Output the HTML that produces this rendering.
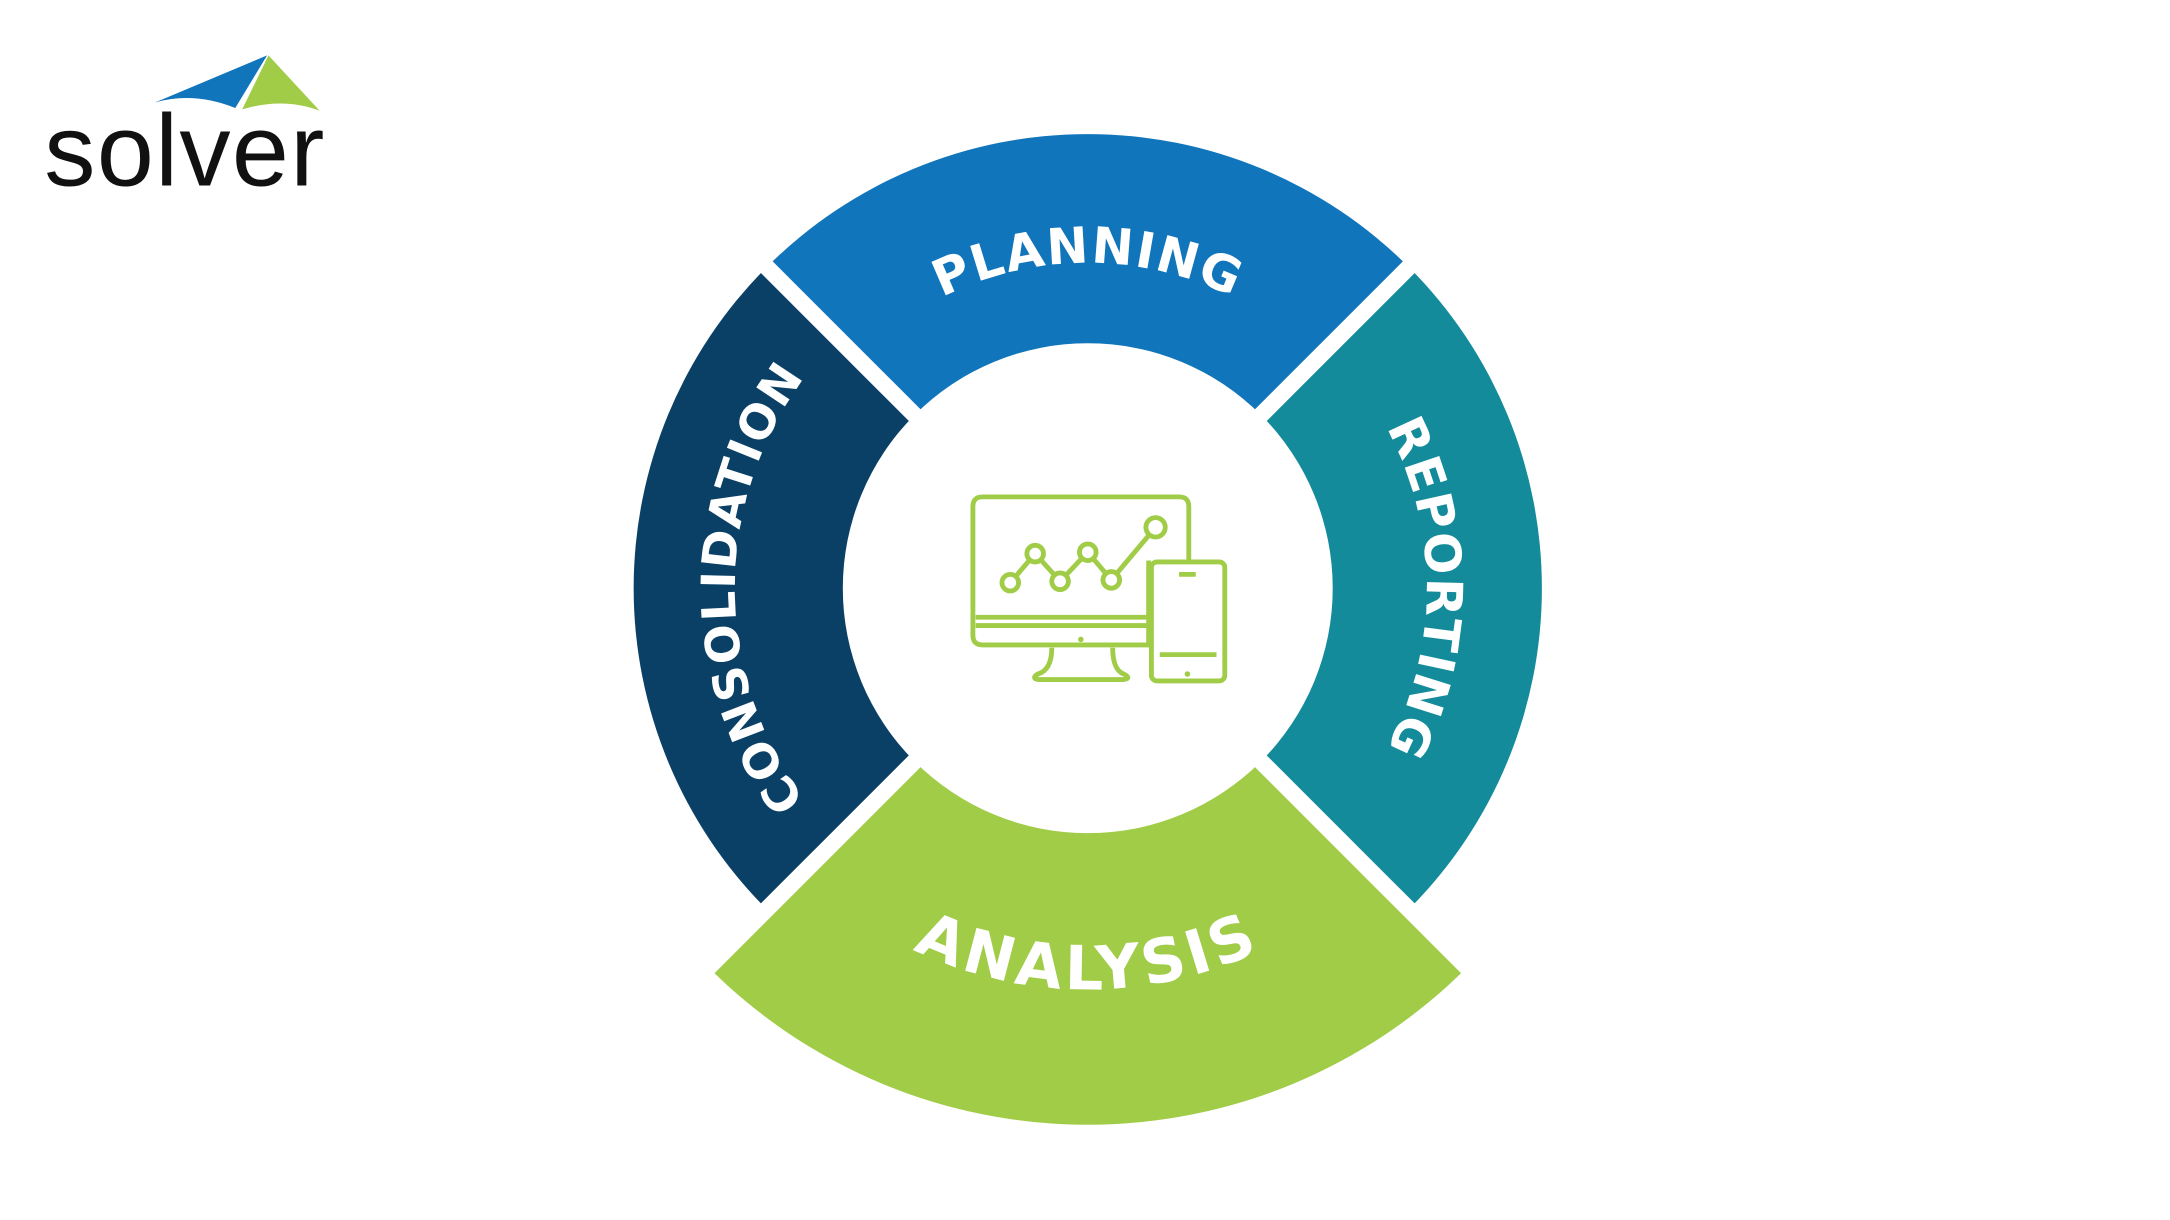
<!DOCTYPE html>
<html><head><meta charset="utf-8"><style>
html,body{margin:0;padding:0;background:#fff;}
svg{display:block;}
</style></head><body>
<svg width="2170" height="1220" viewBox="0 0 1568 881.5" xmlns="http://www.w3.org/2000/svg">
<defs>
<path id="pPlan" d="M 786 425 m -166.2 -166.2 A 235 235 0 0 1 952.2 258.8"/>
<path id="pRep" d="M 786 425 m 173.2 -173.2 A 245 245 0 0 1 959.2 598.2"/>
<path id="pCons" d="M 786 425 m -180.3 180.3 A 255 255 0 0 1 605.7 244.7"/>
<path id="pAna" d="M 786 425 m -205 205 A 290 290 0 0 0 991 630"/>
</defs>
<path d="M786 425 L554 193 A328 328 0 0 1 1018 193 Z" fill="#1175BC"/>
<path d="M786 425 L1018 193 A328 328 0 0 1 1018 657 Z" fill="#138B9A"/>
<path d="M786 425 L554 657 A328 328 0 0 1 554 193 Z" fill="#0B4066"/>
<path d="M786 425 L1060 699 A387 387 0 0 1 512 699 Z" fill="#A0CC47"/>
<line x1="786" y1="425" x2="480" y2="119" stroke="#fff" stroke-width="12"/>
<line x1="786" y1="425" x2="1092" y2="119" stroke="#fff" stroke-width="12"/>
<line x1="786" y1="425" x2="440" y2="771" stroke="#fff" stroke-width="12"/>
<line x1="786" y1="425" x2="1132" y2="771" stroke="#fff" stroke-width="12"/>
<circle cx="786" cy="425" r="177" fill="#fff"/>
<g font-family="DejaVu Sans, Liberation Sans, sans-serif" font-weight="bold" fill="#fff" font-size="36" letter-spacing="1">
<text><textPath href="#pPlan" startOffset="50%" text-anchor="middle">PLANNING</textPath></text>
<text><textPath href="#pRep" startOffset="50%" text-anchor="middle">REPORTING</textPath></text>
<text font-size="34" letter-spacing="1"><textPath href="#pCons" startOffset="50%" text-anchor="middle">CONSOLIDATION</textPath></text>
<text font-size="44" letter-spacing="3"><textPath href="#pAna" startOffset="50%" text-anchor="middle">ANALYSIS</textPath></text>
</g>
<g fill="none" stroke="#A0CC47" stroke-width="3.5" stroke-linejoin="round">
<path d="M830 405 V466 H710 Q703 466 703 459 V366 Q703 359 710 359 H852 Q859 359 859 366 V405"/>
<line x1="705" y1="446" x2="830" y2="446"/>
<line x1="705" y1="452" x2="830" y2="452"/>
<path d="M760 468 Q760 484 750 487 Q745 490 750 491 H812 Q818 490 812 487 Q804 484 804 468"/>
<rect x="832" y="406" width="53" height="86" rx="4"/>
<line x1="838" y1="473" x2="879" y2="473"/>
<line x1="852" y1="415" x2="864" y2="415"/>
<polyline points="730,421 748,400 766,420 786,399 803,419 835,381"/>
<circle cx="730" cy="421" r="6" fill="#fff"/><circle cx="748" cy="400" r="6" fill="#fff"/>
<circle cx="766" cy="420" r="6" fill="#fff"/><circle cx="786" cy="399" r="6" fill="#fff"/>
<circle cx="803" cy="419" r="6" fill="#fff"/><circle cx="835" cy="381" r="7" fill="#fff"/>
</g>
<circle cx="781" cy="462" r="2" fill="#A0CC47"/>
<circle cx="858" cy="487" r="2" fill="#A0CC47"/>
<path d="M112 74 Q140 66 170 78 L193 40 Z" fill="#1175BC"/>
<path d="M175 79 Q205 70 231 80 L194 40 Z" fill="#A0CC47"/>
<text x="32" y="134" font-family="Liberation Sans, sans-serif" font-size="74" fill="#111" letter-spacing="1">solver</text>
</svg>
</body></html>
